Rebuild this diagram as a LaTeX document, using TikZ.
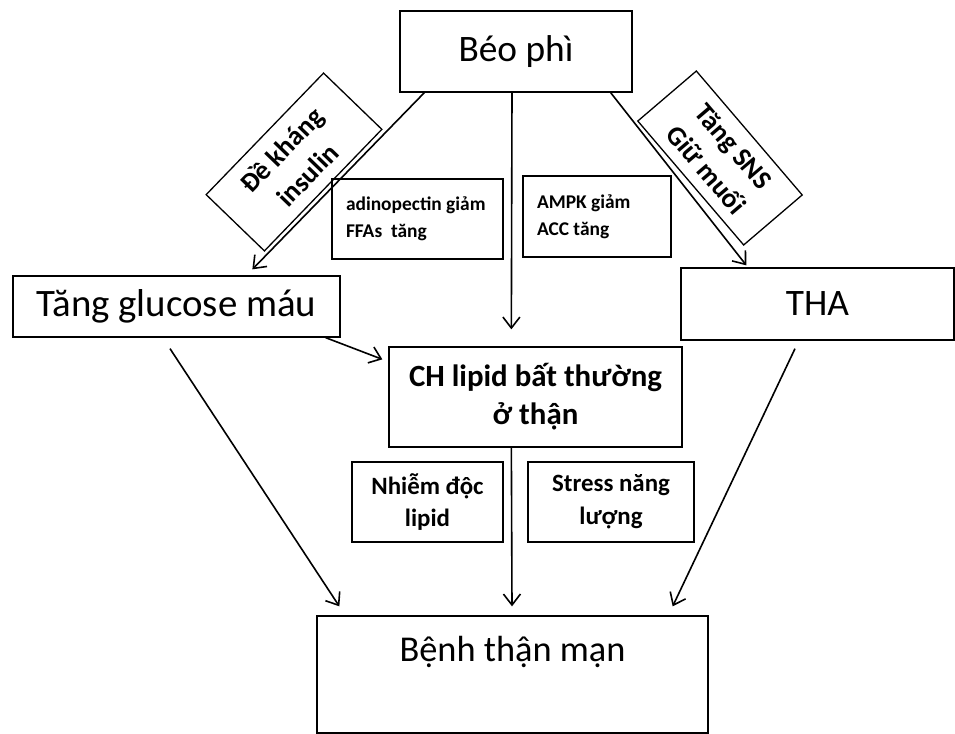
\documentclass[tikz,border=0pt]{standalone}
\usepackage{fontspec}
\setmainfont{Carlito}
\usetikzlibrary{arrows.meta,calc,positioning}

\begin{document}
\begin{tikzpicture}[
  x=1bp,y=-1bp,
  box/.style={draw,line width=1.3bp,inner sep=0pt,align=center},
  bigbox/.style={box,font=\fontsize{37.5}{44}\selectfont},
  tagbox/.style={box,inner xsep=14bp,align=flush left,font=\bfseries\fontsize{19.5}{27}\selectfont},
  midbox/.style={box,font=\bfseries\fontsize{25}{33}\selectfont},
  tiltbox/.style={box,font=\bfseries\fontsize{27.5}{34}\selectfont},
  arrow/.style={-{Straight Barb[length=11bp,width=17bp]},line width=1.6bp}
]
\useasboundingbox (0,0) rectangle (955,734);

% main boxes
\node[bigbox,minimum width=232bp,minimum height=81bp] (beo) at (516,51.5) {Béo phì};
\node[bigbox,font=\fontsize{39}{46}\selectfont,minimum width=327bp,minimum height=61bp] (glu) at (176.5,306.5) {Tăng glucose máu};
\node[bigbox,minimum width=273bp,minimum height=72bp] (tha) at (817.5,304) {THA};
\node[box,font=\bfseries\fontsize{31}{38}\selectfont,minimum width=293bp,minimum height=100bp] (lipid) at (535.5,397) {CH lipid bất thường\\ở thận};
\node[bigbox,font=\fontsize{36.5}{44}\selectfont,minimum width=391bp,minimum height=117bp,text height=45bp,text depth=72bp] (ckd) at (512.5,674.5) {Bệnh thận mạn};

% labels on the arrows
\node[tagbox,text width=143bp,minimum height=80bp] (adipo) at (417.5,219) {adinopectin giảm\\FFAs\ \ tăng};
\node[tagbox,text width=120bp,minimum height=81bp] (ampk) at (597,216.5) {AMPK giảm\\ACC tăng};
\node[midbox,minimum width=151bp,minimum height=80bp] (toxic) at (427.5,502) {Nhiễm độc\\lipid};
\node[midbox,minimum width=166bp,minimum height=80bp] (stress) at (611,502) {Stress năng\\lượng};
\node[tiltbox,minimum width=169bp,minimum height=81bp,rotate=46] (insul) at (294,162) {Đề kháng\\[2bp]insulin};
\node[tiltbox,minimum width=163bp,minimum height=77bp,rotate=-49.5] (sns) at (720,158) {Tăng SNS\\[2bp]Giữ muối};

\draw[arrow] ($(beo.south west)+(25,0)$) -- ($(glu.north west)+(240,-6)$);
\draw[arrow] ($(beo.south)+(-4,0)$) -- ($(lipid.north west)+(123,-17)$);
\draw[arrow] ($(beo.south east)+(-22,0)$) -- ($(tha.north west)+(66,-2)$);
\draw[arrow] ($(glu.south east)+(-15,0)$) -- ($(lipid.north west)+(-6,13)$);
\draw[arrow] ($(glu.south)+(-6.5,11)$) -- ($(ckd.north west)+(23,-9)$);
\draw[arrow] ($(tha.south)+(-22.5,8)$) -- ($(ckd.north east)+(-36,-9)$);
\draw[arrow] ($(lipid.south west)+(123,0)$) -- ($(ckd.north)+(-0.5,-9)$);
\end{tikzpicture}
\end{document}
